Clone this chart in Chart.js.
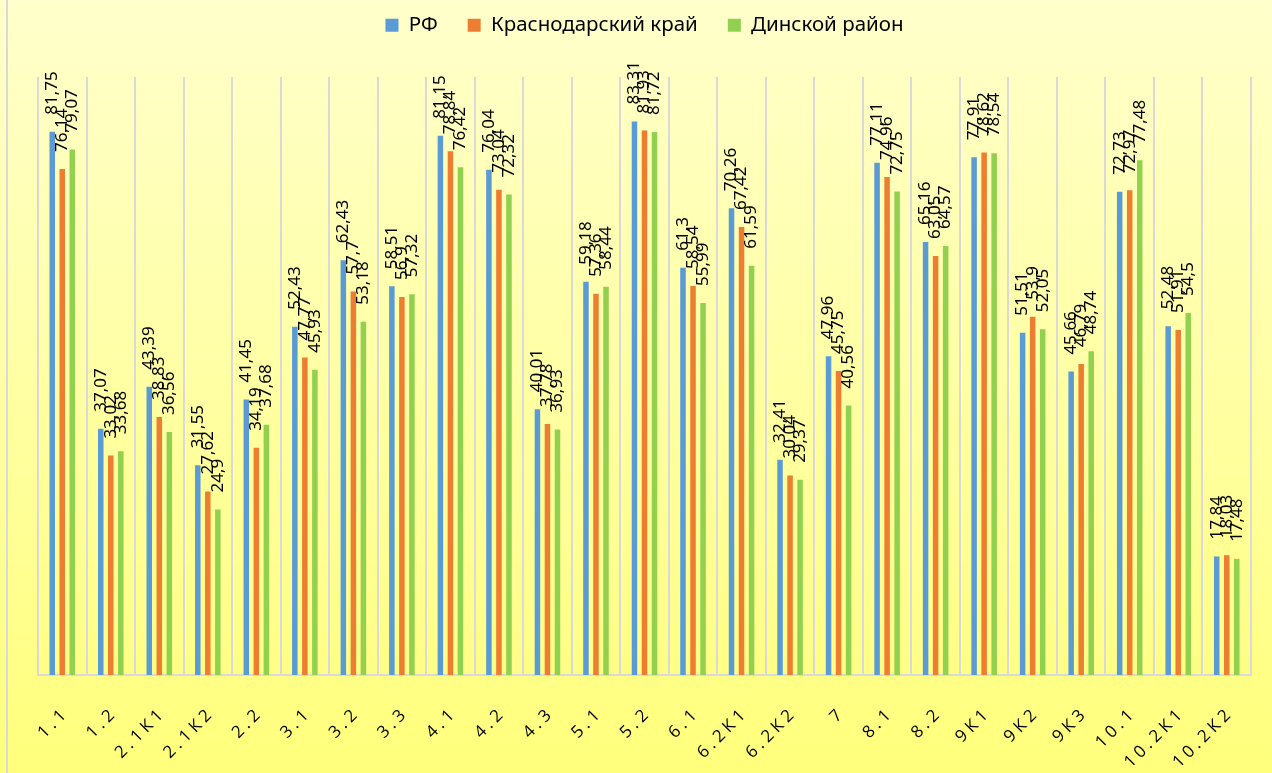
<!DOCTYPE html>
<html>
<head>
<meta charset="utf-8">
<script src="https://cdn.jsdelivr.net/npm/chart.js@4.4.1/dist/chart.umd.min.js"></script>
<style>
  html, body { margin: 0; padding: 0; background: #ffffcc; }
  canvas { display: block; }
</style>
</head>
<body>
<canvas id="myChart" width="1272" height="773"></canvas>
<script>
const categories = ['1.1', '1.2', '2.1К1', '2.1К2', '2.2', '3.1', '3.2', '3.3', '4.1', '4.2', '4.3', '5.1', '5.2', '6.1', '6.2К1', '6.2К2', '7', '8.1', '8.2', '9К1', '9К2', '9К3', '10.1', '10.2К1', '10.2К2'];

const rf = [81.75, 37.07, 43.39, 31.55, 41.45, 52.43, 62.43, 58.51, 81.15, 76.04, 40.01, 59.18, 83.31, 61.3, 70.26, 32.41, 47.96, 77.11, 65.16, 77.91, 51.51, 45.66, 72.73, 52.48, 17.84];
const krasnodar = [76.14, 33.02, 38.83, 27.62, 34.19, 47.77, 57.7, 56.9, 78.84, 73.04, 37.78, 57.36, 81.93, 58.54, 67.42, 30.04, 45.75, 74.96, 63.05, 78.62, 53.9, 46.79, 72.97, 51.91, 18.03];
const dinskoy = [79.07, 33.68, 36.56, 24.9, 37.68, 45.93, 53.18, 57.32, 76.42, 72.32, 36.93, 58.44, 81.72, 55.99, 61.59, 29.37, 40.56, 72.75, 64.57, 78.54, 52.05, 48.74, 77.48, 54.5, 17.48];

// yellow gradient behind everything
const background = {
  id: 'background',
  beforeDraw(chart) {
    const ctx = chart.ctx;
    const g = ctx.createLinearGradient(0, 0, 0, chart.height);
    g.addColorStop(0, '#ffffcc');
    g.addColorStop(1, '#ffff7c');
    ctx.save();
    ctx.fillStyle = g;
    ctx.fillRect(0, 0, chart.width, chart.height);
    ctx.strokeStyle = '#d9d9d9';
    ctx.lineWidth = 2;
    ctx.beginPath();
    ctx.moveTo(7, 0);
    ctx.lineTo(7, chart.height);
    ctx.stroke();
    ctx.restore();
  }
};

// legend takes the whole band above the plot
const legendHeight = {
  id: 'legendHeight',
  beforeLayout(chart) {
    const lg = chart.legend;
    if (lg && !lg._patched) {
      const fit = lg.fit;
      lg.fit = function () {
        fit.call(this);
        this.height = 92;
      };
      lg._patched = true;
    }
  }
};

// wider letters on the category labels
const spacedTicks = {
  id: 'spacedTicks',
  beforeDraw(chart) {
    const s = chart.scales.x;
    if (s._spaced) return;
    const orig = s.drawLabels;
    s.drawLabels = function (area) {
      this.ctx.save();
      this.ctx.letterSpacing = '4px';
      this.ctx.translate(4, 0);
      orig.call(this, area);
      this.ctx.restore();
    };
    s._spaced = true;
  }
};

// vertical value labels over the bars
const valueLabels = {
  id: 'valueLabels',
  afterDatasetsDraw(chart) {
    const ctx = chart.ctx;
    ctx.save();
    ctx.font = '17px "Noto Sans"';
    ctx.fillStyle = '#000';
    ctx.textAlign = 'left';
    ctx.textBaseline = 'middle';
    chart.data.datasets.forEach((ds, i) => {
      chart.getDatasetMeta(i).data.forEach((bar, j) => {
        ctx.save();
        ctx.translate(bar.x, bar.y - 17);
        ctx.rotate(-Math.PI / 2);
        ctx.fillText(String(ds.data[j]).replace('.', ','), 0, 0);
        ctx.restore();
      });
    });
    ctx.restore();
  }
};

const ctx = document.getElementById('myChart');

new Chart(ctx, {
  type: 'bar',
  data: {
    labels: categories,
    datasets: [
      { label: 'РФ', data: rf, backgroundColor: '#5b9bd5' },
      { label: 'Краснодарский край', data: krasnodar, backgroundColor: '#ed7d31' },
      { label: 'Динской район', data: dinskoy, backgroundColor: '#92d050' }
    ]
  },
  options: {
    responsive: false,
    animation: false,
    datasets: {
      bar: { categoryPercentage: 0.62, barPercentage: 0.55 }
    },
    layout: { padding: { top: -15, left: 38, right: 21, bottom: 0 } },
    plugins: {
      tooltip: { enabled: false },
      legend: {
        position: 'top',
        labels: {
          boxWidth: 13,
          boxHeight: 13,
          padding: 30,
          color: '#000',
          font: { family: '"Noto Sans"', size: 20.5 }
        }
      }
    },
    scales: {
      x: {
        grid: { offset: true, color: '#d9d9d9', lineWidth: 2, drawTicks: false },
        border: { color: '#d9d9d9', width: 2 },
        ticks: {
          autoSkip: false,
          maxRotation: 45,
          minRotation: 45,
          padding: 28,
          color: '#000',
          font: { family: '"Open Sans"', size: 17 }
        },
        afterFit: (s) => {
          s.height = 98;
          s.paddingLeft = 0;
          s.paddingRight = 0;
        }
      },
      y: {
        display: false,
        min: 0,
        max: 90
      }
    }
  },
  plugins: [background, legendHeight, spacedTicks, valueLabels]
});
</script>
</body>
</html>
